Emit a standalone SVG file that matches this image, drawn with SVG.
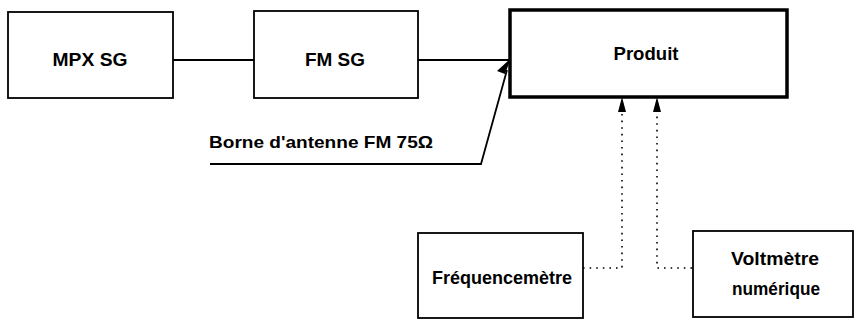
<svg xmlns="http://www.w3.org/2000/svg" width="856" height="320" viewBox="0 0 856 320">
<style>
.box{fill:#fff;stroke:#000;stroke-width:1.8}
.thick{fill:#fff;stroke:#000;stroke-width:3.5}
.t{font-family:"Liberation Sans",Arial,sans-serif;font-size:19px;font-weight:bold;fill:#000;text-anchor:middle}
.ln{stroke:#000;stroke-width:1.8;fill:none}
.dot{stroke:#000;stroke-width:1.6;fill:none;stroke-dasharray:1.6 5}
.ah{fill:#000}
</style>
<g id="connectors">
<line class="ln" x1="173" y1="60" x2="254" y2="60"/>
<line class="ln" x1="418" y1="60" x2="510" y2="60"/>
<polyline class="ln" points="210,164 481,164 507,70"/>
<polygon class="ah" points="511,58 505,74 497,71"/>
<polyline class="dot" points="583,268 622,268 622,112"/>
<polygon class="ah" points="622,97 618,112 626,112"/>
<polyline class="dot" points="692,268 657,268 657,112"/>
<polygon class="ah" points="657,97 653,112 661,112"/>
</g>
<g id="mpx"><rect class="box" x="8" y="12" width="165" height="86"/><text class="t" x="90" y="66" textLength="75" lengthAdjust="spacingAndGlyphs">MPX SG</text></g>
<g id="fm"><rect class="box" x="254" y="11" width="164" height="87"/><text class="t" x="335" y="66" textLength="60" lengthAdjust="spacingAndGlyphs">FM SG</text></g>
<g id="produit"><rect class="thick" x="510" y="10" width="277" height="87"/><text class="t" x="646" y="60" textLength="65" lengthAdjust="spacingAndGlyphs">Produit</text></g>
<g id="label"><text class="t" x="209" y="148" style="text-anchor:start;font-size:17px" textLength="224" lengthAdjust="spacingAndGlyphs">Borne d'antenne FM 75Ω</text></g>
<g id="freq"><rect class="box" x="418" y="233" width="165" height="85"/><text class="t" x="502" y="284" textLength="140" lengthAdjust="spacingAndGlyphs">Fréquencemètre</text></g>
<g id="volt"><rect class="box" x="693" y="231" width="160" height="86"/><text class="t" x="775" y="265" textLength="88" lengthAdjust="spacingAndGlyphs">Voltmètre</text><text class="t" x="776" y="295" textLength="88" lengthAdjust="spacingAndGlyphs">numérique</text></g>
</svg>
